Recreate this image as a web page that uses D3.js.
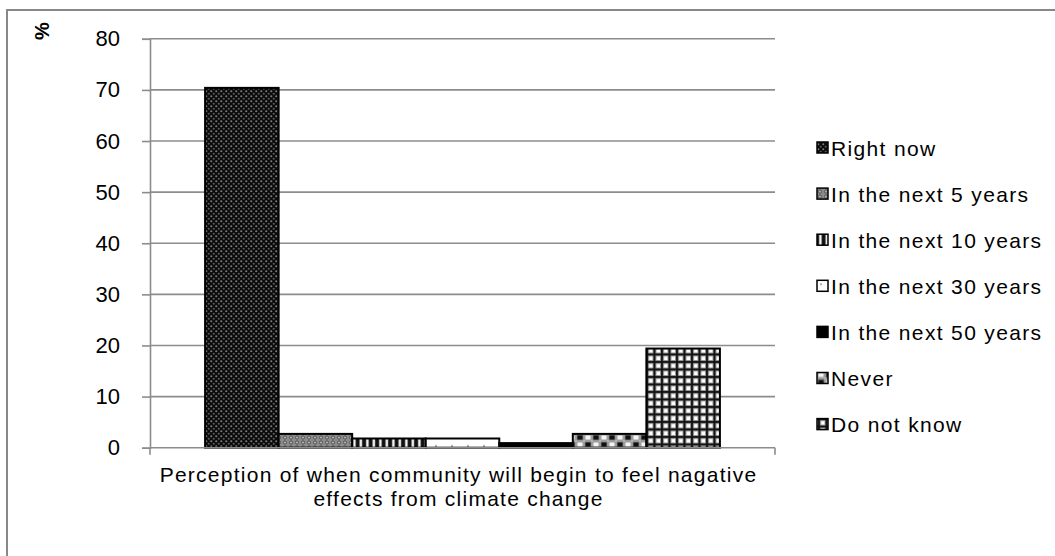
<!DOCTYPE html>
<html>
<head>
<meta charset="utf-8">
<script src="https://cdn.jsdelivr.net/npm/d3@7"></script>
<style>
  html, body { margin: 0; padding: 0; background: #fff; }
  svg { display: block; font-family: "Liberation Sans", Arial, sans-serif; }
</style>
</head>
<body>
<svg id="chart" width="1055" height="556"></svg>
<script>
// Survey responses (% of respondents)
const categoryLines = ["Perception of when community will begin to feel nagative", "effects from climate change"];
const seriesNames = ["Right now", "In the next 5 years", "In the next 10 years", "In the next 30 years", "In the next 50 years", "Never", "Do not know"];
const seriesValues = [70.4, 2.7, 1.8, 1.8, 0.9, 2.7, 19.4];
const yTicks = [0, 10, 20, 30, 40, 50, 60, 70, 80];
const axisLabel = "%";

const svg = d3.select("#chart");
const W = 1055, H = 556;
const plot = { left: 150, right: 775, top: 38.8, bottom: 447.7 };

// ---- fill patterns ----
const defs = svg.append("defs");

function pat(id, w, h, draw) {
  const p = defs.append("pattern").attr("id", id)
    .attr("patternUnits", "userSpaceOnUse").attr("width", w).attr("height", h);
  draw(p);
}
// dark checker with grey dots
pat("p0", 5, 5, p => {
  p.append("rect").attr("width", 5).attr("height", 5).attr("fill", "#0a0a0a");
  p.append("circle").attr("cx", 1.25).attr("cy", 1.25).attr("r", 1.1).attr("fill", "#7a7a7a");
  p.append("circle").attr("cx", 3.75).attr("cy", 3.75).attr("r", 1.1).attr("fill", "#5a5a5a");
});
// grey with darker rings
pat("p1", 6, 5, p => {
  p.append("rect").attr("width", 6).attr("height", 5).attr("fill", "#8c8c8c");
  p.append("circle").attr("cx", 3).attr("cy", 2.5).attr("r", 1.6).attr("fill", "#b4b4b4").attr("stroke", "#3c3c3c").attr("stroke-width", 0.8);
});
// vertical stripes
pat("p2", 6.5, 6, p => {
  p.append("rect").attr("width", 6.5).attr("height", 6).attr("fill", "#111");
  p.append("rect").attr("x", 1.8).attr("width", 3).attr("height", 6).attr("fill", "#8a8a8a");
  p.append("rect").attr("x", 2.5).attr("width", 1.8).attr("height", 6).attr("fill", "#fff");
});
// white with sparse grey specks
pat("p3", 16, 8, p => {
  p.append("rect").attr("width", 16).attr("height", 8).attr("fill", "#fff");
  p.append("circle").attr("cx", 4).attr("cy", 6).attr("r", 0.9).attr("fill", "#888");
});
// solid black
pat("p4", 4, 4, p => {
  p.append("rect").attr("width", 4).attr("height", 4).attr("fill", "#000");
});
// large checkerboard
pat("p5", 16, 14, p => {
  p.append("rect").attr("width", 16).attr("height", 14).attr("fill", "#fff");
  [[0, 0, "#111"], [8, 0, "#f4f4f4"], [0, 7, "#f4f4f4"], [8, 7, "#111"]].forEach(([x, y, c]) => {
    p.append("rect").attr("x", x + 0.8).attr("y", y + 0.8).attr("width", 6.4).attr("height", 5.4)
      .attr("fill", c).attr("stroke", "#888").attr("stroke-width", 1.2);
  });
});
// plaid grid
pat("p6", 7.5, 7.5, p => {
  p.append("rect").attr("width", 7.5).attr("height", 7.5).attr("fill", "#fff");
  p.append("rect").attr("x", 0).attr("width", 4).attr("height", 7.5).attr("fill", "#9a9a9a");
  p.append("rect").attr("y", 0).attr("height", 4).attr("width", 7.5).attr("fill", "#9a9a9a");
  p.append("rect").attr("x", 1).attr("width", 2).attr("height", 7.5).attr("fill", "#111");
  p.append("rect").attr("y", 1).attr("height", 2).attr("width", 7.5).attr("fill", "#111");
});
const fills = seriesNames.map((_, i) => `url(#p${i})`);

// ---- outer frame ----
svg.append("rect").attr("x", 7).attr("y", 10).attr("width", W + 10).attr("height", H + 10)
  .attr("fill", "none").attr("stroke", "#888").attr("stroke-width", 2);

// ---- scales ----
const y = d3.scaleLinear().domain([0, 80]).range([plot.bottom, plot.top]);
const x0 = d3.scaleBand().domain([categoryLines.join(" ")]).range([plot.left, plot.right]).paddingInner(0).paddingOuter(0.107);
const x1 = d3.scaleBand().domain(seriesNames).range([0, x0.bandwidth()]).padding(0);

// ---- gridlines ----
svg.append("g").selectAll("line").data(yTicks.filter(t => t > 0)).join("line")
  .attr("x1", plot.left).attr("x2", plot.right)
  .attr("y1", d => y(d)).attr("y2", d => y(d))
  .attr("stroke", "#8c8c8c").attr("stroke-width", 1.6);

// ---- y axis ----
const yAxis = svg.append("g").attr("transform", `translate(${plot.left},0)`)
  .call(d3.axisLeft(y).tickValues(yTicks).tickSize(8).tickPadding(22));
yAxis.select(".domain").attr("stroke", "#8c8c8c").attr("stroke-width", 1.6);
yAxis.selectAll(".tick line").attr("stroke", "#8c8c8c").attr("stroke-width", 1.6);
yAxis.selectAll(".tick text").attr("font-size", 22).attr("fill", "#000")
  .attr("font-family", "Liberation Sans, Arial, sans-serif");

// ---- bars ----
const cat = x0.domain()[0];
svg.append("g").selectAll("rect").data(seriesValues).join("rect")
  .attr("x", (d, i) => x0(cat) + x1(seriesNames[i]))
  .attr("width", x1.bandwidth())
  .attr("y", d => y(d))
  .attr("height", d => y(0) - y(d))
  .attr("fill", (d, i) => fills[i])
  .attr("stroke", "#000").attr("stroke-width", 2);

// ---- x axis ----
svg.append("line").attr("x1", plot.left).attr("x2", plot.right)
  .attr("y1", y(0)).attr("y2", y(0)).attr("stroke", "#8c8c8c").attr("stroke-width", 1.6);
[plot.left, plot.right].forEach(px => {
  svg.append("line").attr("x1", px).attr("x2", px).attr("y1", y(0)).attr("y2", y(0) + 7)
    .attr("stroke", "#8c8c8c").attr("stroke-width", 1.6);
});

// category label
const cx = (plot.left + plot.right) / 2 - 4;
svg.append("g").selectAll("text").data(categoryLines).join("text")
  .attr("x", cx).attr("y", (d, i) => 482 + i * 24)
  .attr("text-anchor", "middle").attr("font-size", 21).attr("letter-spacing", 1.25)
  .text(d => d);

// axis title
svg.append("text").attr("transform", "translate(49,31) rotate(-90)")
  .attr("text-anchor", "middle").attr("font-size", 20).attr("font-weight", "bold")
  .text(axisLabel);

// ---- legend ----
const legend = svg.append("g").selectAll("g").data(seriesNames).join("g")
  .attr("transform", (d, i) => `translate(817,${148 + i * 46.1})`);
legend.append("rect").attr("x", 0).attr("y", -6).attr("width", 11).attr("height", 11)
  .attr("fill", (d, i) => fills[i]).attr("stroke", "#000").attr("stroke-width", 1.5);
legend.append("text").attr("x", 14).attr("y", 7.5)
  .attr("font-size", 21).attr("letter-spacing", 1.35).text(d => d);
</script>
</body>
</html>
